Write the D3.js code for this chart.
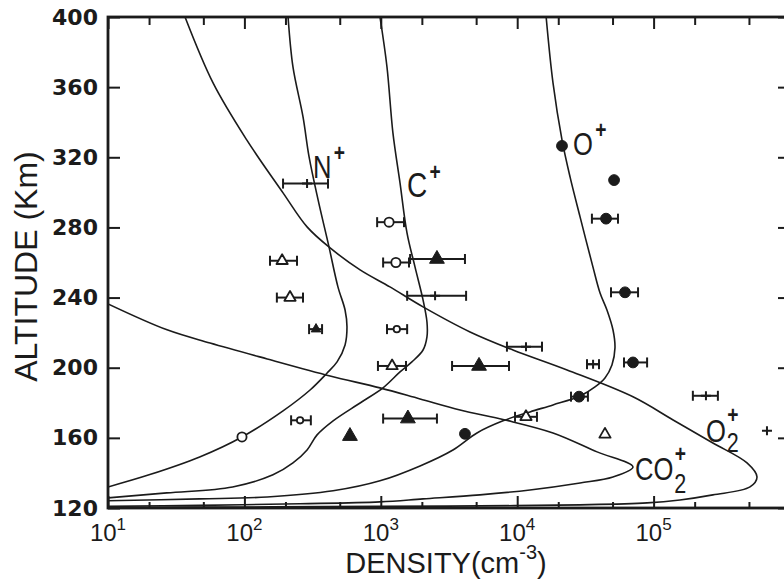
<!DOCTYPE html>
<html>
<head>
<meta charset="utf-8">
<script src="https://cdn.jsdelivr.net/npm/d3@7"></script>
<style>
  html, body { margin: 0; padding: 0; background: #fff; }
  svg { display: block; }
</style>
</head>
<body>
<svg id="chart" width="784" height="579"></svg>
<script>
// ---- axis ticks ----
const decades = [1e1, 1e2, 1e3, 1e4, 1e5];
const decadeExponents = ["1", "2", "3", "4", "5"];
const minorTicks = [2e1, 5e1, 2e2, 5e2, 2e3, 5e3, 2e4, 5e4, 2e5, 5e5];
const altitudeTicks = [120, 160, 200, 240, 280, 320, 360, 400];

// ---- model ion profiles: [density (cm^-3), altitude (km)] ----
const nPlusProfile = [
  [209, 400], [227, 371.5], [269, 343], [298, 320.2], [347, 295.7], [417, 268.9],
  [485, 246.1], [547, 232.9], [565, 223.3], [547, 213], [478, 203.3], [404, 197],
  [303, 187.3], [192, 175.4], [96, 160.5], [47, 149.1], [20, 138.9], [10, 132]
];
const cPlusProfile = [
  [986, 400], [1110, 371.5], [1227, 333.9], [1383, 305.4], [1556, 276.9], [1781, 257.5],
  [2040, 238.7], [2180, 226.1], [2180, 217.6], [2040, 210.1], [1690, 203.3], [1383, 197.6],
  [1038, 188.5], [705, 179.9], [447, 169.7], [341, 161.7], [288, 153.1], [227, 145.7],
  [162, 138.9], [82, 132], [27, 128.6], [10, 125.8]
];
const oPlusProfile = [
  [16300, 400], [18300, 362.4], [21300, 329.9], [24400, 308.8], [28900, 286], [35900, 257.5],
  [40500, 242.6], [45500, 232.9], [50400, 221.5], [52100, 211.3], [49500, 201.6], [44000, 194.2],
  [37200, 189.1], [28900, 183.9], [18300, 178.8], [12400, 174.8], [7870, 169.7], [5070, 162.8],
  [3380, 153.1], [1940, 144], [986, 135.5], [447, 129.8], [147, 126.3], [47, 125.2], [10, 124.1]
];
const o2PlusProfile = [
  [36.7, 400], [58.9, 362.4], [104, 329.9], [192, 299.7], [288, 280.3], [425, 268.3],
  [705, 255.8], [1167, 246.1], [2040, 234.7], [4510, 220.4], [9310, 210.1], [23200, 198.7],
  [70600, 183.4], [139000, 170.2], [272000, 157.1], [484000, 145.7], [573000, 137.7],
  [509000, 132], [272000, 127.5], [156000, 124.6], [89600, 122.9], [28900, 121.8],
  [5330, 121.2], [986, 120.9], [110, 120.6], [10, 120.3]
];
const co2PlusProfile = [
  [10, 236.4], [27.1, 221.6], [56, 214.1], [147, 205], [425, 195.3], [986, 188.5],
  [1940, 182.2], [3810, 175.9], [8150, 170.2], [18300, 162.8], [38500, 152], [70600, 143.4],
  [50400, 137.7], [28900, 134.3], [12400, 130.3], [5330, 127.5], [2040, 125.2], [986, 123.5],
  [256, 122.4], [47, 121.5], [10, 120.9]
];

// ---- measurements: [density, altitude, low, high] (low/high null when no bar) ----
const openCircles = [[1150, 283, 940, 1480], [1290, 260, 1040, 1610], [96, 160.5, null, null]];
const openCirclesSmall = [[1310, 222, 1110, 1560], [256, 170, 220, 307]];
const openTriangles = [
  [189, 261, 154, 243], [216, 240, 173, 269], [1210, 201, 953, 1530],
  [11600, 172, 9640, 13960], [44000, 162, null, null]
];
const filledTriangles = [[2580, 262, 1640, 4140], [5250, 201, 3330, 8710], [1580, 171, 1040, 2580], [594, 161, null, null]];
const filledTrianglesSmall = [[335, 222, 298, 371]];
const filledCircles = [
  [21300, 326.5, null, null], [51300, 307, null, null], [44800, 285, 35300, 54800],
  [61700, 243, 48700, 76900], [70600, 203, 60700, 89600], [28400, 183.5, 24800, 33000],
  [4140, 162.3, null, null]
];
const plusMarks = [
  [288, 305, 192, 410], [2500, 241, 1560, 4220], [11600, 212, 8410, 15200],
  [36000, 202, 32500, 39800], [242000, 184, 194000, 296000], [678000, 164, null, null]
];

// ---- curve labels: [main, subscript, density, altitude] ----
const ionLabels = [
  ["N", "", 318, 308.2],
  ["C", "", 1556, 297.4],
  ["O", "", 25600, 321.3],
  ["O", "2", 242000, 157.7],
  ["CO", "2", 73100, 136.0]
];

const INK = "#1b1b1b";
const svg = d3.select("#chart");
const plot = { left: 108, right: 790, top: 17, bottom: 508 };

const x = d3.scaleLog().domain([1e1, 1e6]).range([plot.left, plot.right]);
const y = d3.scaleLinear().domain([120, 400]).range([plot.bottom, plot.top]);

svg.append("defs").append("clipPath").attr("id", "plotClip")
  .append("rect")
  .attr("x", plot.left).attr("y", plot.top)
  .attr("width", plot.right - plot.left).attr("height", plot.bottom - plot.top);

// ---- ticks ----
function styleTicks(g) {
  g.select(".domain").remove();
  g.selectAll(".tick line").attr("stroke", INK).attr("stroke-width", 2);
}
svg.append("g").attr("transform", `translate(0,${plot.top})`)
  .call(d3.axisTop(x).tickValues(decades).tickSize(-12).tickFormat(""))
  .call(styleTicks);
svg.append("g").attr("transform", `translate(0,${plot.top})`)
  .call(d3.axisTop(x).tickValues(minorTicks).tickSize(-8).tickFormat(""))
  .call(styleTicks);
svg.append("g").attr("transform", `translate(0,${plot.bottom})`)
  .call(d3.axisBottom(x).tickValues(decades).tickSize(-12).tickFormat(""))
  .call(styleTicks);
svg.append("g").attr("transform", `translate(0,${plot.bottom})`)
  .call(d3.axisBottom(x).tickValues(minorTicks).tickSize(-6).tickFormat(""))
  .call(styleTicks);

const leftAxis = svg.append("g").attr("transform", `translate(${plot.left},0)`)
  .call(d3.axisLeft(y).tickValues(altitudeTicks).tickSize(-12).tickPadding(10).tickFormat(d3.format("d")))
  .call(styleTicks);
leftAxis.selectAll("text")
  .attr("fill", INK)
  .style("font-family", "'DejaVu Sans', sans-serif")
  .style("font-weight", "bold")
  .style("font-size", "22px");

svg.append("g").attr("transform", `translate(${plot.right},0)`)
  .call(d3.axisRight(y).tickValues(altitudeTicks).tickSize(-12).tickFormat(""))
  .call(styleTicks);

// frame
svg.append("rect")
  .attr("x", plot.left).attr("y", plot.top)
  .attr("width", plot.right - plot.left).attr("height", plot.bottom - plot.top)
  .attr("fill", "none").attr("stroke", INK).attr("stroke-width", 2.8);

// decade labels 10^n
const xl = svg.append("g")
  .style("font-family", "'Liberation Sans', Arial, sans-serif")
  .attr("fill", INK);
decades.forEach((d, i) => {
  const t = xl.append("text")
    .attr("x", x(d)).attr("y", 541)
    .attr("text-anchor", "middle")
    .style("font-size", "24px");
  t.append("tspan").text("10");
  t.append("tspan").attr("dy", -11).style("font-size", "17px").text(decadeExponents[i]);
});

// axis titles
const xt = svg.append("text")
  .attr("x", (plot.left + 784) / 2).attr("y", 573)
  .attr("text-anchor", "middle")
  .attr("fill", INK)
  .style("font-family", "'Liberation Sans', Arial, sans-serif")
  .style("font-size", "29px");
xt.append("tspan").text("DENSITY(cm");
xt.append("tspan").attr("dy", -14).style("font-size", "20px").text("-3");
xt.append("tspan").attr("dy", 14).text(")");

svg.append("text")
  .attr("transform", `translate(37,${(plot.top + plot.bottom) / 2 + 4}) rotate(-90)`)
  .attr("text-anchor", "middle")
  .attr("fill", INK)
  .style("font-family", "'Liberation Sans', Arial, sans-serif")
  .style("font-size", "32px")
  .text("ALTITUDE (Km)");

// ---- model curves ----
const line = d3.line()
  .x(d => x(d[0])).y(d => y(d[1]))
  .curve(d3.curveCatmullRom.alpha(0.5));

const curves = svg.append("g").attr("clip-path", "url(#plotClip)");
[nPlusProfile, cPlusProfile, oPlusProfile, o2PlusProfile, co2PlusProfile].forEach(p => {
  curves.append("path")
    .attr("d", line(p))
    .attr("fill", "none")
    .attr("stroke", INK)
    .attr("stroke-width", 1.6)
    .attr("stroke-linejoin", "round");
});

// ---- measurements ----
const marks = svg.append("g").attr("clip-path", "url(#plotClip)");

function errorBars(data) {
  data.filter(d => d[2] != null).forEach(d => {
    const yy = y(d[1]);
    const g = marks.append("g").attr("stroke", INK).attr("stroke-width", 2);
    g.append("line").attr("x1", x(d[2])).attr("x2", x(d[3])).attr("y1", yy).attr("y2", yy);
    [d[2], d[3]].forEach(v => {
      g.append("line").attr("x1", x(v)).attr("x2", x(v)).attr("y1", yy - 5).attr("y2", yy + 5);
    });
  });
}

[openCircles, openCirclesSmall, openTriangles, filledTriangles, filledTrianglesSmall, filledCircles, plusMarks]
  .forEach(errorBars);

function circles(data, r, filled) {
  marks.selectAll(null).data(data).join("circle")
    .attr("cx", d => x(d[0])).attr("cy", d => y(d[1])).attr("r", r)
    .attr("fill", filled ? INK : "#fff")
    .attr("stroke", INK).attr("stroke-width", filled ? 1 : 1.8);
}
function triangles(data, size, filled) {
  const sym = d3.symbol().type(d3.symbolTriangle).size(size);
  marks.selectAll(null).data(data).join("path")
    .attr("d", sym)
    .attr("transform", d => `translate(${x(d[0])},${y(d[1])})`)
    .attr("fill", filled ? INK : "#fff")
    .attr("stroke", INK).attr("stroke-width", filled ? 1 : 1.8)
    .attr("stroke-linejoin", "round");
}
circles(openCircles, 4.6, false);
circles(openCirclesSmall, 3.2, false);
circles(filledCircles, 5.4, true);
triangles(openTriangles, 55, false);
triangles(filledTriangles, 95, true);
triangles(filledTrianglesSmall, 40, true);

// plus marks
marks.selectAll(null).data(plusMarks).join("path")
  .attr("d", d => {
    const cx = x(d[0]), cy = y(d[1]);
    return `M${cx - 5},${cy}H${cx + 5}M${cx},${cy - 4.5}V${cy + 4.5}`;
  })
  .attr("stroke", INK).attr("stroke-width", 2).attr("fill", "none");

// ---- ion labels: one text element each, with sub/superscript tspans ----
const lab = svg.append("g")
  .attr("fill", INK)
  .style("font-family", "'Liberation Sans', Arial, sans-serif");
ionLabels.forEach(([main, sub, n, alt]) => {
  const t = lab.append("text")
    .attr("transform", `translate(${x(n)},${y(alt)}) scale(0.8,1)`)
    .style("font-size", main === "C" ? "35px" : "32px");
  t.append("tspan").text(main);
  if (sub) {
    const subDy = main === "O" ? 10 : 13;
    t.append("tspan").attr("dx", 1).attr("dy", subDy).style("font-size", "27px").text(sub);
    t.append("tspan")
      .attr("dx", -14.3).attr("dy", main === "O" ? -29 : -31)
      .style("font-size", "24px").style("font-weight", "bold").text("+");
  } else {
    t.append("tspan").attr("dx", 3).attr("dy", -17)
      .style("font-size", "24px").style("font-weight", "bold").text("+");
  }
});
</script>
</body>
</html>
